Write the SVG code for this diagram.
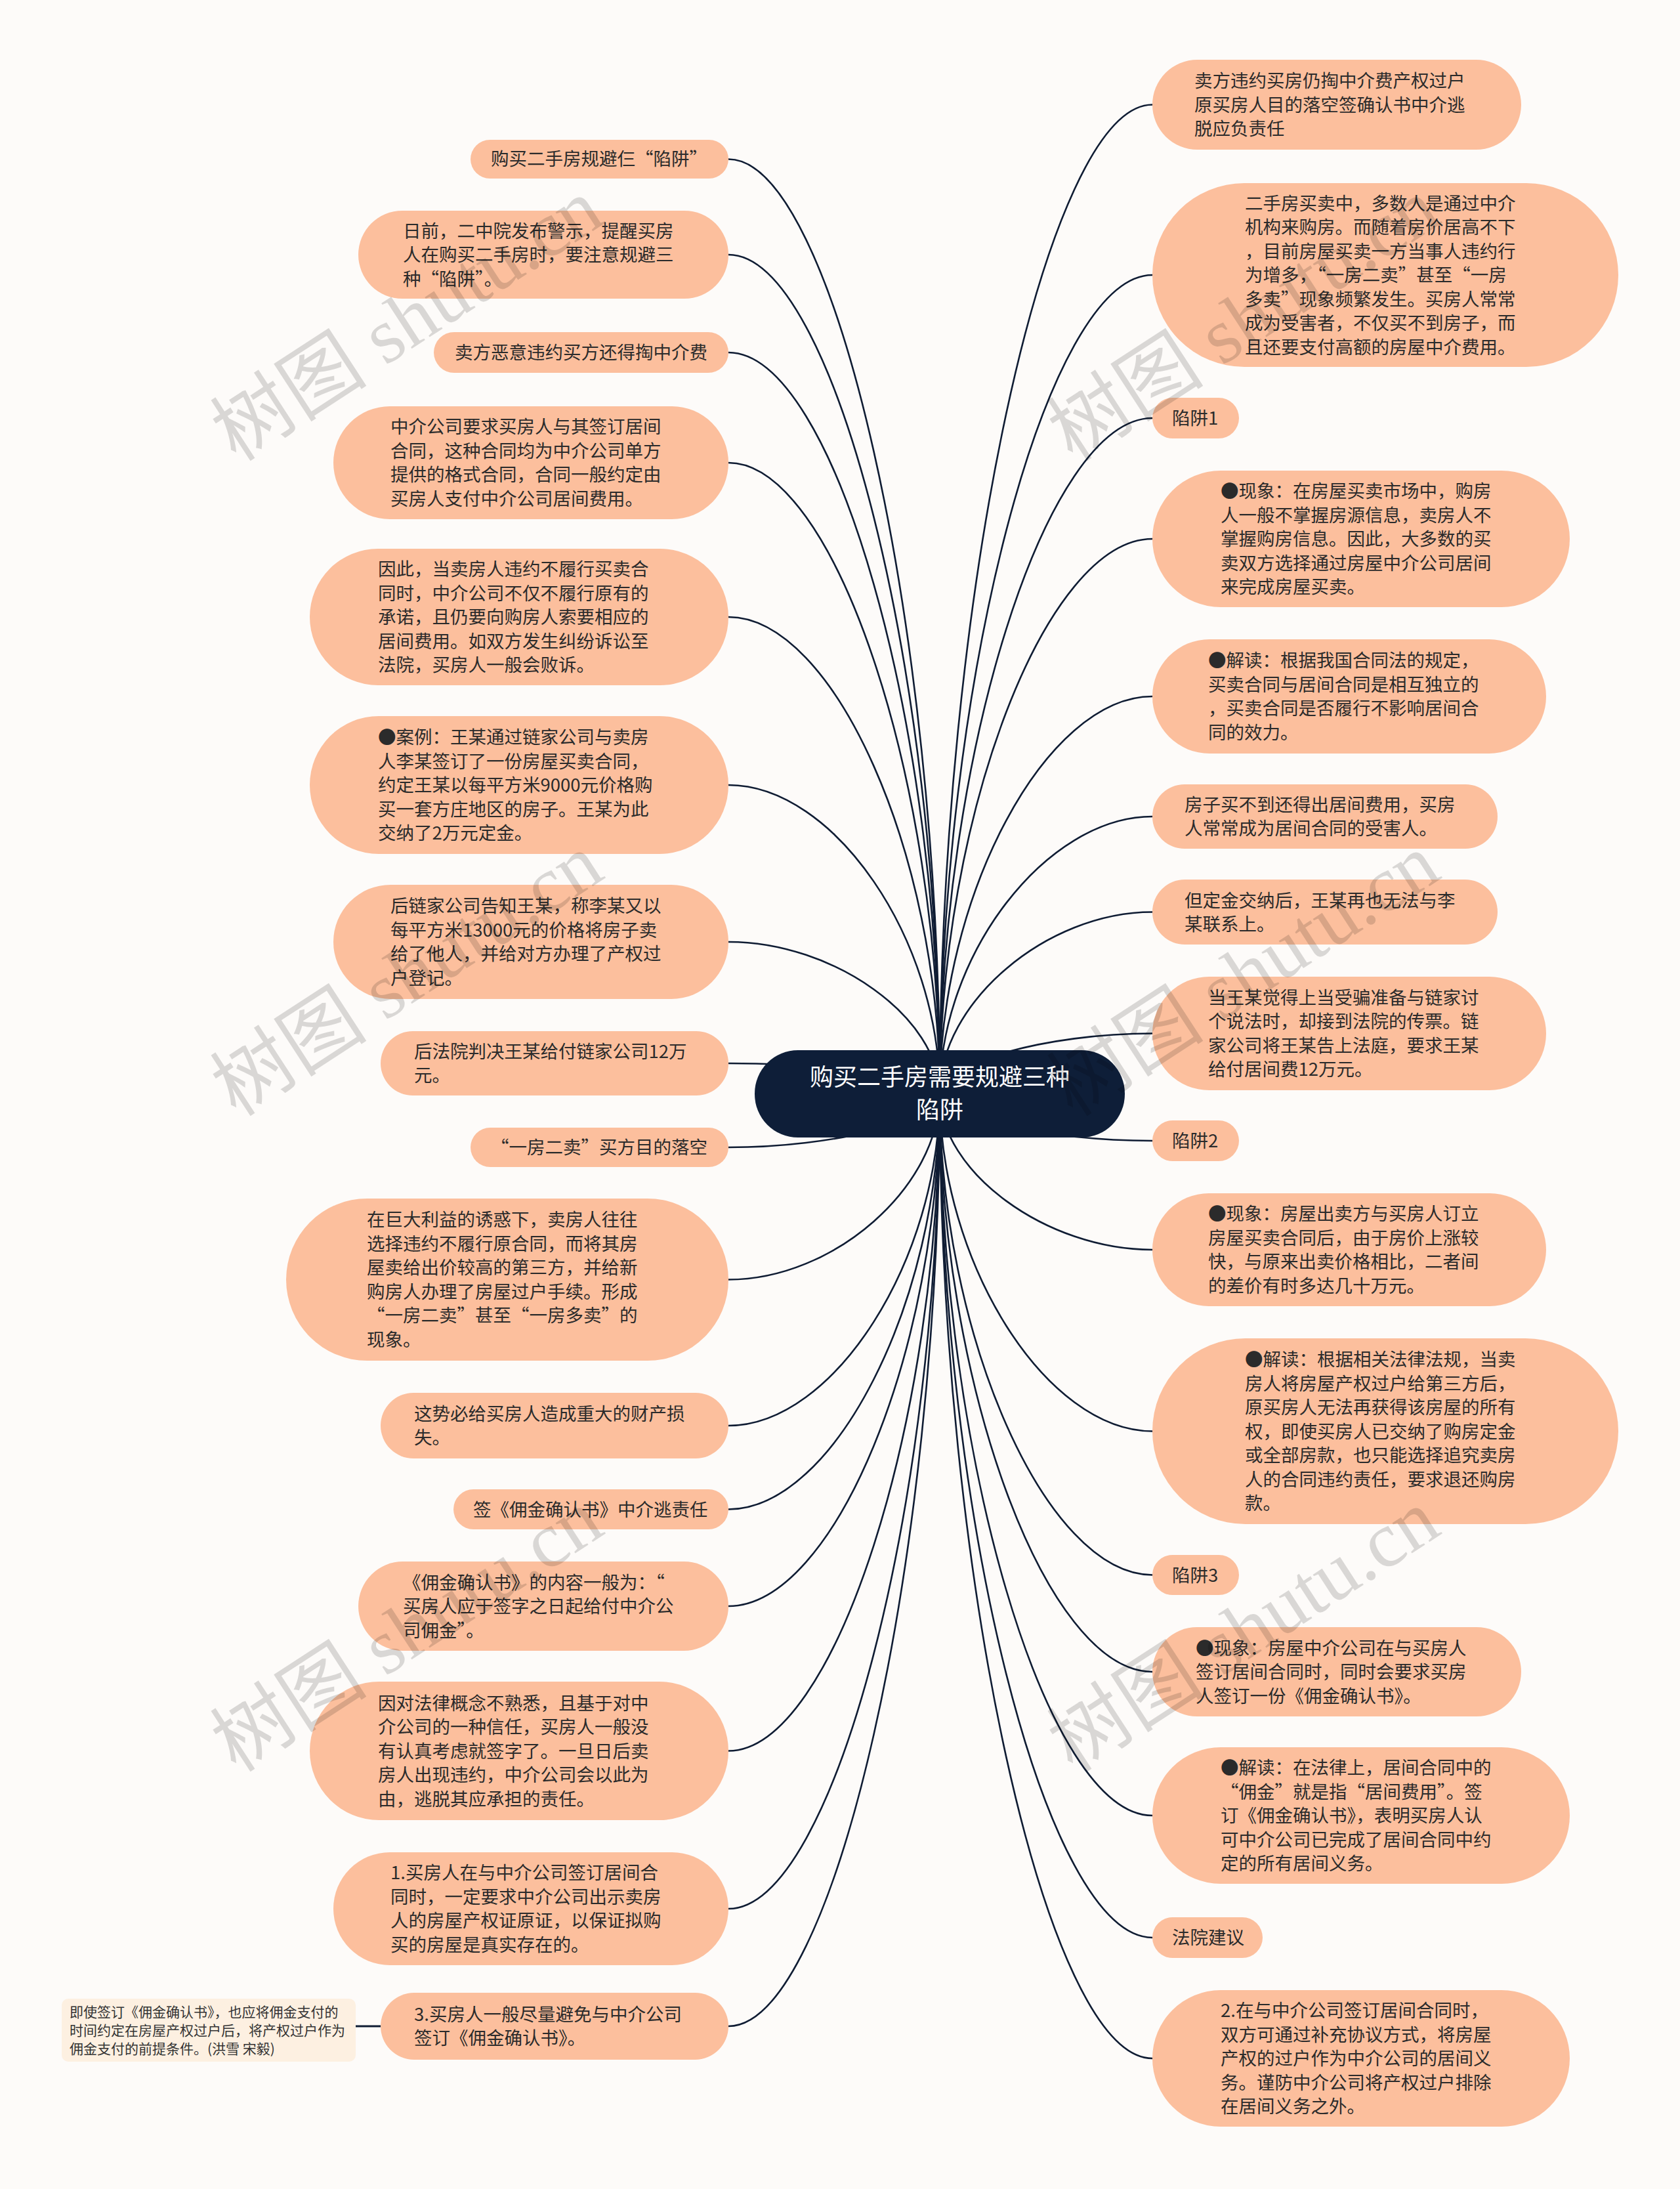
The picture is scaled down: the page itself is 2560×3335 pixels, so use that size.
<svg xmlns="http://www.w3.org/2000/svg" width="2560" height="3335" viewBox="0 0 2560 3335">
<style>
.bg{fill:#fdfbf9}
.n{fill:#fcbf9d}
.note{fill:#fdf0e1}
.c{fill:#0e1e38}
.t{font-family:"Noto Sans CJK SC","Noto Sans",sans-serif;font-size:27.5px;fill:#2b2b2b}
.nt{font-family:"Noto Sans CJK SC","Noto Sans",sans-serif;font-size:21px;fill:#333333}
.ct{font-family:"Noto Sans CJK SC","Noto Sans",sans-serif;font-size:36px;fill:#ffffff;text-anchor:middle}
.e{fill:none;stroke:#0f1c33;stroke-width:2.6}
.wm{font-family:"Liberation Serif","Noto Sans CJK SC",serif;font-size:120px;fill:#000000;fill-opacity:0.14}
</style>
<rect class="bg" x="0" y="0" width="2560" height="3335"/>
<g id="connectors">
<path class="e" d="M1432,1666 C1432,954.25 1271,242.5 1110,242.5"/>
<path class="e" d="M1432,1666 C1432,1027 1271,388 1110,388"/>
<path class="e" d="M1432,1666 C1432,1101.5 1271,537 1110,537"/>
<path class="e" d="M1432,1666 C1432,1185.5 1271,705 1110,705"/>
<path class="e" d="M1432,1666 C1432,1303 1271,940 1110,940"/>
<path class="e" d="M1432,1666 C1432,1431 1271,1196 1110,1196"/>
<path class="e" d="M1432,1666 C1432,1550.5 1271,1435 1110,1435"/>
<path class="e" d="M1432,1666 C1432,1643 1271,1620 1110,1620"/>
<path class="e" d="M1432,1666 C1432,1707 1271,1748 1110,1748"/>
<path class="e" d="M1432,1666 C1432,1807.75 1271,1949.5 1110,1949.5"/>
<path class="e" d="M1432,1666 C1432,1919 1271,2172 1110,2172"/>
<path class="e" d="M1432,1666 C1432,1982.75 1271,2299.5 1110,2299.5"/>
<path class="e" d="M1432,1666 C1432,2056.5 1271,2447 1110,2447"/>
<path class="e" d="M1432,1666 C1432,2166.75 1271,2667.5 1110,2667.5"/>
<path class="e" d="M1432,1666 C1432,2287 1271,2908 1110,2908"/>
<path class="e" d="M1432,1666 C1432,2376.5 1271,3087 1110,3087"/>
<path class="e" d="M580,3087 L542,3087" style="stroke-width:3.2"/>
<path class="e" d="M1432,1666 C1432,912.75 1594,159.5 1756,159.5"/>
<path class="e" d="M1432,1666 C1432,1042.5 1594,419 1756,419"/>
<path class="e" d="M1432,1666 C1432,1151.5 1594,637 1756,637"/>
<path class="e" d="M1432,1666 C1432,1243.5 1594,821 1756,821"/>
<path class="e" d="M1432,1666 C1432,1363.5 1594,1061 1756,1061"/>
<path class="e" d="M1432,1666 C1432,1455 1594,1244 1756,1244"/>
<path class="e" d="M1432,1666 C1432,1527.75 1594,1389.5 1756,1389.5"/>
<path class="e" d="M1432,1666 C1432,1620.25 1594,1574.5 1756,1574.5"/>
<path class="e" d="M1432,1666 C1432,1702 1594,1738 1756,1738"/>
<path class="e" d="M1432,1666 C1432,1785 1594,1904 1756,1904"/>
<path class="e" d="M1432,1666 C1432,1923.25 1594,2180.5 1756,2180.5"/>
<path class="e" d="M1432,1666 C1432,2032.75 1594,2399.5 1756,2399.5"/>
<path class="e" d="M1432,1666 C1432,2106.5 1594,2547 1756,2547"/>
<path class="e" d="M1432,1666 C1432,2216 1594,2766 1756,2766"/>
<path class="e" d="M1432,1666 C1432,2309 1594,2952 1756,2952"/>
<path class="e" d="M1432,1666 C1432,2401 1594,3136 1756,3136"/>
</g>
<g id="center">
<rect class="c" x="1150" y="1600" width="564" height="133" rx="66" ry="66"/>
<text class="ct"><tspan x="1432" y="1654">购买二手房需要规避三种</tspan><tspan x="1432" y="1704">陷阱</tspan></text>
</g>
<g id="L1"><rect class="n" x="717" y="213" width="393" height="59" rx="29.5"/><text class="t"><tspan x="748" y="252">购买二手房规避仨“陷阱”</tspan></text></g>
<g id="L2"><rect class="n" x="546" y="321" width="564" height="134" rx="67"/><text class="t"><tspan x="614" y="362">日前，二中院发布警示，提醒买房</tspan><tspan x="614" y="398">人在购买二手房时，要注意规避三</tspan><tspan x="614" y="435">种“陷阱”。</tspan></text></g>
<g id="L3"><rect class="n" x="661" y="506" width="449" height="62" rx="31"/><text class="t"><tspan x="693" y="547">卖方恶意违约买方还得掏中介费</tspan></text></g>
<g id="L4"><rect class="n" x="508" y="619" width="602" height="172" rx="86"/><text class="t"><tspan x="595" y="660">中介公司要求买房人与其签订居间</tspan><tspan x="595" y="697">合同，这种合同均为中介公司单方</tspan><tspan x="595" y="733">提供的格式合同，合同一般约定由</tspan><tspan x="595" y="770">买房人支付中介公司居间费用。</tspan></text></g>
<g id="L5"><rect class="n" x="472" y="836" width="638" height="208" rx="104"/><text class="t"><tspan x="576" y="877">因此，当卖房人违约不履行买卖合</tspan><tspan x="576" y="913.5">同时，中介公司不仅不履行原有的</tspan><tspan x="576" y="950">承诺，且仍要向购房人索要相应的</tspan><tspan x="576" y="986.5">居间费用。如双方发生纠纷诉讼至</tspan><tspan x="576" y="1023">法院，买房人一般会败诉。</tspan></text></g>
<g id="L6"><rect class="n" x="472" y="1091" width="638" height="210" rx="105"/><text class="t"><tspan x="576" y="1133">●案例：王某通过链家公司与卖房</tspan><tspan x="576" y="1169.5">人李某签订了一份房屋买卖合同，</tspan><tspan x="576" y="1206">约定王某以每平方米9000元价格购</tspan><tspan x="576" y="1242.5">买一套方庄地区的房子。王某为此</tspan><tspan x="576" y="1279">交纳了2万元定金。</tspan></text></g>
<g id="L7"><rect class="n" x="508" y="1348" width="602" height="174" rx="87"/><text class="t"><tspan x="595" y="1390">后链家公司告知王某，称李某又以</tspan><tspan x="595" y="1427">每平方米13000元的价格将房子卖</tspan><tspan x="595" y="1463">给了他人，并给对方办理了产权过</tspan><tspan x="595" y="1500">户登记。</tspan></text></g>
<g id="L8"><rect class="n" x="580" y="1571" width="530" height="98" rx="49"/><text class="t"><tspan x="631" y="1612">后法院判决王某给付链家公司12万</tspan><tspan x="631" y="1648">元。</tspan></text></g>
<g id="L9"><rect class="n" x="717" y="1718" width="393" height="60" rx="30"/><text class="t"><tspan x="748" y="1758">“一房二卖”买方目的落空</tspan></text></g>
<g id="L10"><rect class="n" x="436" y="1826" width="674" height="247" rx="123.5"/><text class="t"><tspan x="559" y="1868">在巨大利益的诱惑下，卖房人往往</tspan><tspan x="559" y="1905">选择违约不履行原合同，而将其房</tspan><tspan x="559" y="1941">屋卖给出价较高的第三方，并给新</tspan><tspan x="559" y="1978">购房人办理了房屋过户手续。形成</tspan><tspan x="559" y="2014">“一房二卖”甚至“一房多卖”的</tspan><tspan x="559" y="2051">现象。</tspan></text></g>
<g id="L11"><rect class="n" x="580" y="2122" width="530" height="100" rx="50"/><text class="t"><tspan x="631" y="2164">这势必给买房人造成重大的财产损</tspan><tspan x="631" y="2200">失。</tspan></text></g>
<g id="L12"><rect class="n" x="691" y="2269" width="419" height="61" rx="30.5"/><text class="t"><tspan x="721" y="2309.5">签《佣金确认书》中介逃责任</tspan></text></g>
<g id="L13"><rect class="n" x="546" y="2379" width="564" height="136" rx="68"/><text class="t"><tspan x="614" y="2420.5">《佣金确认书》的内容一般为：“</tspan><tspan x="614" y="2457">买房人应于签字之日起给付中介公</tspan><tspan x="614" y="2493.5">司佣金”。</tspan></text></g>
<g id="L14"><rect class="n" x="472" y="2562" width="638" height="211" rx="105.5"/><text class="t"><tspan x="576" y="2604.5">因对法律概念不熟悉，且基于对中</tspan><tspan x="576" y="2641">介公司的一种信任，买房人一般没</tspan><tspan x="576" y="2677.5">有认真考虑就签字了。一旦日后卖</tspan><tspan x="576" y="2714">房人出现违约，中介公司会以此为</tspan><tspan x="576" y="2750.5">由，逃脱其应承担的责任。</tspan></text></g>
<g id="L15"><rect class="n" x="508" y="2822" width="602" height="172" rx="86"/><text class="t"><tspan x="595" y="2863">1.买房人在与中介公司签订居间合</tspan><tspan x="595" y="2900">同时，一定要求中介公司出示卖房</tspan><tspan x="595" y="2936">人的房屋产权证原证，以保证拟购</tspan><tspan x="595" y="2973">买的房屋是真实存在的。</tspan></text></g>
<g id="L16"><rect class="n" x="580" y="3036" width="530" height="102" rx="51"/><text class="t"><tspan x="631" y="3079">3.买房人一般尽量避免与中介公司</tspan><tspan x="631" y="3115">签订《佣金确认书》。</tspan></text></g>
<g id="note"><rect class="note" x="94" y="3045" width="448" height="96" rx="10"/><text class="nt"><tspan x="106" y="3072.5">即使签订《佣金确认书》，也应将佣金支付的</tspan><tspan x="106" y="3100.5">时间约定在房屋产权过户后，将产权过户作为</tspan><tspan x="106" y="3128.5">佣金支付的前提条件。(洪雪 宋毅)</tspan></text></g>
<g id="R1"><rect class="n" x="1756" y="91" width="562" height="137" rx="68.5"/><text class="t"><tspan x="1820" y="133">卖方违约买房仍掏中介费产权过户</tspan><tspan x="1820" y="169.5">原买房人目的落空签确认书中介逃</tspan><tspan x="1820" y="206">脱应负责任</tspan></text></g>
<g id="R2"><rect class="n" x="1756" y="279" width="710" height="280" rx="140"/><text class="t"><tspan x="1897" y="319.5">二手房买卖中，多数人是通过中介</tspan><tspan x="1897" y="356">机构来购房。而随着房价居高不下</tspan><tspan x="1897" y="392.5">，目前房屋买卖一方当事人违约行</tspan><tspan x="1897" y="429">为增多，“一房二卖”甚至“一房</tspan><tspan x="1897" y="465.5">多卖”现象频繁发生。买房人常常</tspan><tspan x="1897" y="502">成为受害者，不仅买不到房子，而</tspan><tspan x="1897" y="538.5">且还要支付高额的房屋中介费用。</tspan></text></g>
<g id="R3"><rect class="n" x="1756" y="606" width="132" height="62" rx="31"/><text class="t"><tspan x="1786" y="647">陷阱1</tspan></text></g>
<g id="R4"><rect class="n" x="1756" y="717" width="636" height="208" rx="104"/><text class="t"><tspan x="1860" y="758">●现象：在房屋买卖市场中，购房</tspan><tspan x="1860" y="794.5">人一般不掌握房源信息，卖房人不</tspan><tspan x="1860" y="831">掌握购房信息。因此，大多数的买</tspan><tspan x="1860" y="867.5">卖双方选择通过房屋中介公司居间</tspan><tspan x="1860" y="904">来完成房屋买卖。</tspan></text></g>
<g id="R5"><rect class="n" x="1756" y="974" width="600" height="174" rx="87"/><text class="t"><tspan x="1841" y="1016">●解读：根据我国合同法的规定，</tspan><tspan x="1841" y="1053">买卖合同与居间合同是相互独立的</tspan><tspan x="1841" y="1089">，买卖合同是否履行不影响居间合</tspan><tspan x="1841" y="1126">同的效力。</tspan></text></g>
<g id="R6"><rect class="n" x="1756" y="1195" width="526" height="98" rx="49"/><text class="t"><tspan x="1805" y="1236">房子买不到还得出居间费用，买房</tspan><tspan x="1805" y="1272">人常常成为居间合同的受害人。</tspan></text></g>
<g id="R7"><rect class="n" x="1756" y="1340" width="526" height="99" rx="49.5"/><text class="t"><tspan x="1805" y="1381.5">但定金交纳后，王某再也无法与李</tspan><tspan x="1805" y="1418">某联系上。</tspan></text></g>
<g id="R8"><rect class="n" x="1756" y="1488" width="600" height="173" rx="86.5"/><text class="t"><tspan x="1841" y="1530">当王某觉得上当受骗准备与链家讨</tspan><tspan x="1841" y="1566">个说法时，却接到法院的传票。链</tspan><tspan x="1841" y="1603">家公司将王某告上法庭，要求王某</tspan><tspan x="1841" y="1639">给付居间费12万元。</tspan></text></g>
<g id="R9"><rect class="n" x="1756" y="1707" width="132" height="62" rx="31"/><text class="t"><tspan x="1786" y="1748">陷阱2</tspan></text></g>
<g id="R10"><rect class="n" x="1756" y="1818" width="600" height="172" rx="86"/><text class="t"><tspan x="1841" y="1859">●现象：房屋出卖方与买房人订立</tspan><tspan x="1841" y="1896">房屋买卖合同后，由于房价上涨较</tspan><tspan x="1841" y="1932">快，与原来出卖价格相比，二者间</tspan><tspan x="1841" y="1969">的差价有时多达几十万元。</tspan></text></g>
<g id="R11"><rect class="n" x="1756" y="2039" width="710" height="283" rx="141.5"/><text class="t"><tspan x="1897" y="2081">●解读：根据相关法律法规，当卖</tspan><tspan x="1897" y="2117.5">房人将房屋产权过户给第三方后，</tspan><tspan x="1897" y="2154">原买房人无法再获得该房屋的所有</tspan><tspan x="1897" y="2190.5">权，即使买房人已交纳了购房定金</tspan><tspan x="1897" y="2227">或全部房款，也只能选择追究卖房</tspan><tspan x="1897" y="2263.5">人的合同违约责任，要求退还购房</tspan><tspan x="1897" y="2300">款。</tspan></text></g>
<g id="R12"><rect class="n" x="1756" y="2369" width="132" height="61" rx="30.5"/><text class="t"><tspan x="1786" y="2409.5">陷阱3</tspan></text></g>
<g id="R13"><rect class="n" x="1756" y="2479" width="562" height="136" rx="68"/><text class="t"><tspan x="1822" y="2520.5">●现象：房屋中介公司在与买房人</tspan><tspan x="1822" y="2557">签订居间合同时，同时会要求买房</tspan><tspan x="1822" y="2593.5">人签订一份《佣金确认书》。</tspan></text></g>
<g id="R14"><rect class="n" x="1756" y="2662" width="636" height="208" rx="104"/><text class="t"><tspan x="1860" y="2703">●解读：在法律上，居间合同中的</tspan><tspan x="1860" y="2739.5">“佣金”就是指“居间费用”。签</tspan><tspan x="1860" y="2776">订《佣金确认书》，表明买房人认</tspan><tspan x="1860" y="2812.5">可中介公司已完成了居间合同中约</tspan><tspan x="1860" y="2849">定的所有居间义务。</tspan></text></g>
<g id="R15"><rect class="n" x="1756" y="2921" width="168" height="62" rx="31"/><text class="t"><tspan x="1786" y="2962">法院建议</tspan></text></g>
<g id="R16"><rect class="n" x="1756" y="3032" width="636" height="208" rx="104"/><text class="t"><tspan x="1860" y="3073">2.在与中介公司签订居间合同时，</tspan><tspan x="1860" y="3109.5">双方可通过补充协议方式，将房屋</tspan><tspan x="1860" y="3146">产权的过户作为中介公司的居间义</tspan><tspan x="1860" y="3182.5">务。谨防中介公司将产权过户排除</tspan><tspan x="1860" y="3219">在居间义务之外。</tspan></text></g>
<g id="watermarks">
<text class="wm" transform="translate(360,705) rotate(-33)">树图 shutu.cn</text>
<text class="wm" transform="translate(1635,705) rotate(-33)">树图 shutu.cn</text>
<text class="wm" transform="translate(360,1703) rotate(-33)">树图 shutu.cn</text>
<text class="wm" transform="translate(1635,1703) rotate(-33)">树图 shutu.cn</text>
<text class="wm" transform="translate(360,2702) rotate(-33)">树图 shutu.cn</text>
<text class="wm" transform="translate(1635,2702) rotate(-33)">树图 shutu.cn</text>
</g>
</svg>
